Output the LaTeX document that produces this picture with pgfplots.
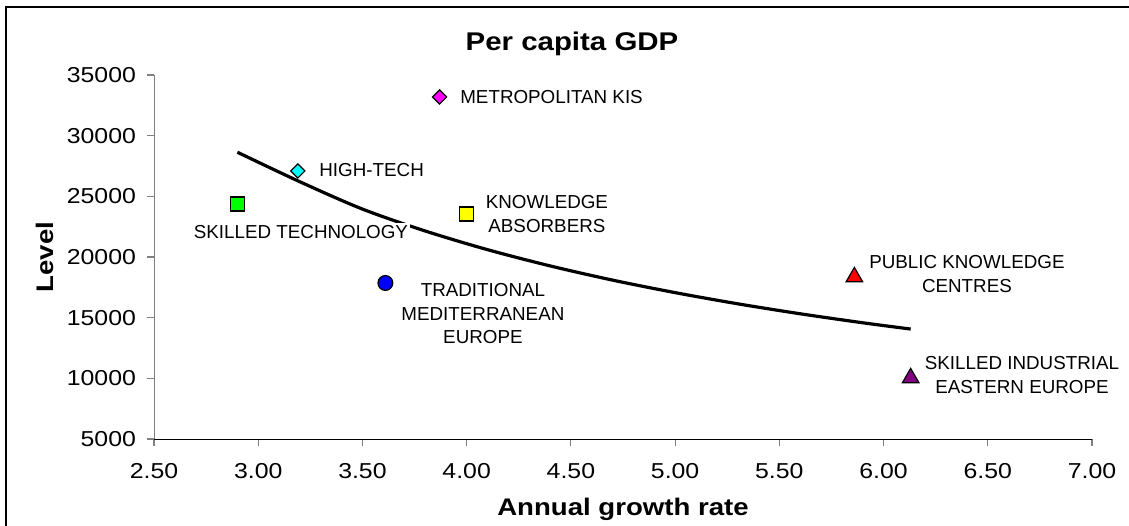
\documentclass[border=0pt]{standalone}
\usepackage{pgfplots}
\pgfplotsset{compat=1.18}
\usepackage{fontspec}
\setmainfont{Liberation Sans}
\newfontfamily\wide{Liberation Sans}[FakeStretch=1.15]
\definecolor{mgreen}{RGB}{0,255,0}
\definecolor{mcyan}{RGB}{0,255,255}
\definecolor{mmagenta}{RGB}{255,0,255}
\definecolor{myellow}{RGB}{255,255,0}
\definecolor{mblue}{RGB}{0,0,255}
\definecolor{mred}{RGB}{255,0,0}
\definecolor{mpurple}{RGB}{128,0,128}
\begin{document}
\begin{tikzpicture}
\useasboundingbox (0,0) rectangle (564.5pt,262.5pt);
\draw[line width=1pt] (3pt,-20pt) rectangle (600pt,259pt);
\begin{axis}[
  at={(77pt,43pt)}, anchor=south west,
  scale only axis, width=469pt, height=182pt,
  xmin=2.5, xmax=7, ymin=5000, ymax=35000,
  xtick={2.5,3,...,7}, ytick={5000,10000,...,35000},
  axis x line*=bottom, axis y line*=left,
  x axis line style={black, -}, y axis line style={gray, -},
  tick style={gray, line width=0.6pt},
  tick align=outside, major tick length=3.5pt,
  /pgf/number format/assume math mode=true,
  xticklabel style={/pgf/number format/fixed, /pgf/number format/fixed zerofill, /pgf/number format/precision=2, font=\wide\fontsize{10.8}{12}\selectfont, yshift=-5pt},
  yticklabel style={/pgf/number format/1000 sep={}, font=\wide\fontsize{10.8}{12}\selectfont, xshift=-2pt},
  scaled x ticks=false, scaled y ticks=false,
  title={Per capita GDP},
  title style={font=\wide\bfseries\fontsize{12.8}{14}\selectfont, at={(axis description cs:0.5,1)}, anchor=center, xshift=-25.5pt, yshift=9.5pt},
  xlabel={Annual growth rate},
  xlabel style={font=\wide\bfseries\fontsize{12}{14}\selectfont, at={(axis description cs:0.5,0)}, anchor=center, yshift=-35pt},
  ylabel={Level},
  ylabel style={font=\wide\bfseries\fontsize{12}{14}\selectfont, at={(axis description cs:0,0.5)}, anchor=center, yshift=54.5pt},
  clip=false,
]
\addplot[black, line width=1.6pt, smooth] coordinates {
(2.90,28635) (3.20,26200) (3.50,23949) (3.80,22150) (4.10,20605) (4.40,19267)
(4.70,18095) (5.00,17064) (5.30,16144) (5.60,15321) (5.90,14579) (6.13,14061)};
\addplot[only marks, mark=square*, mark size=3.5pt, mark options={fill=mgreen, draw=black, line width=0.6pt}] coordinates {(2.90,24370)};
\addplot[only marks, mark=square*, mark size=2.5pt, mark options={rotate=45, fill=mcyan, draw=black, line width=0.6pt}] coordinates {(3.19,27090)};
\addplot[only marks, mark=*, mark size=3.7pt, mark options={fill=mblue, draw=black, line width=0.6pt}] coordinates {(3.61,17860)};
\addplot[only marks, mark=square*, mark size=2.5pt, mark options={rotate=45, fill=mmagenta, draw=black, line width=0.6pt}] coordinates {(3.87,33190)};
\addplot[only marks, mark=square*, mark size=3.5pt, mark options={fill=myellow, draw=black, line width=0.6pt}] coordinates {(4.00,23550)};
\addplot[only marks, mark=triangle*, mark size=4.8pt, mark options={fill=mred, draw=black, line width=0.6pt}] coordinates {(5.86,18350)};
\addplot[only marks, mark=triangle*, mark size=4.8pt, mark options={fill=mpurple, draw=black, line width=0.6pt}] coordinates {(6.13,10030)};
\begin{scope}[every node/.style={font=\fontsize{9.4}{11.75}\selectfont, align=center, fill=white, inner sep=1pt}]
\node[anchor=west] at (axis cs:3.958,33187) {METROPOLITAN KIS};
\node[anchor=west] at (axis cs:3.282,27170) {HIGH-TECH};
\node at (axis cs:3.205,22060) {SKILLED TECHNOLOGY};
\node at (axis cs:4.385,23543) {KNOWLEDGE\\ABSORBERS};
\node at (axis cs:4.078,15302) {TRADITIONAL\\MEDITERRANEAN\\EUROPE};
\node at (axis cs:6.400,18598) {PUBLIC KNOWLEDGE\\CENTRES};
\node at (axis cs:6.664,10274) {SKILLED INDUSTRIAL\\EASTERN EUROPE};
\end{scope}
\end{axis}
\end{tikzpicture}
\end{document}
